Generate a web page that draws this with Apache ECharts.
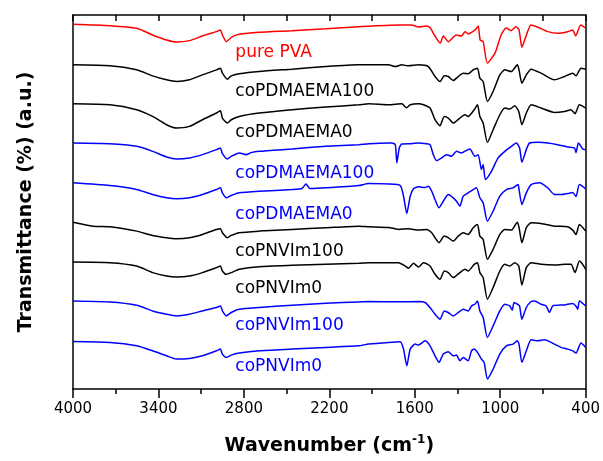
<!DOCTYPE html>
<html>
<head>
<meta charset="utf-8">
<script src="https://cdn.jsdelivr.net/npm/echarts@6/dist/echarts.min.js"></script>
<style>
  html, body { margin: 0; padding: 0; background: #fff; }
  #chart { width: 603px; height: 461px; }
</style>
</head>
<body>
<div id="chart"></div>
<script>
// FTIR spectra, stacked with vertical offsets: [wavenumber (cm-1), transmittance (a.u.)]
const purePVA = [[4000,365.7],[3741,364.3],[3553,361.7],[3441,355],[3343,350],[3273,348],[3182,349.3],[3091,354],[2993,358.3],[2965,360],[2951,355],[2923,348.3],[2902,350.7],[2881,353.3],[2833,355.7],[2693,357.7],[2462,359.3],[2224,361.3],[1994,363.3],[1714,365],[1623,365],[1574,363],[1519,364],[1491,362],[1463,355],[1421,346.7],[1400,354],[1365,348.3],[1309,355],[1274,354],[1246,358.3],[1225,356],[1176,360],[1155,364],[1141,350],[1120,348.3],[1090,326.7],[1036,337],[994,355],[959,362],[924,359.3],[889,363.3],[868,360],[848,342.7],[820,353.3],[784,365],[736,362.7],[666,358.3],[596,356.7],[526,358.3],[491,360],[470,354],[435,365],[400,361.7]];

const coPDMAEMA100a = [[4000,325],[3741,324],[3553,320],[3441,314],[3343,310],[3273,308.3],[3182,310],[3091,315],[2993,320],[2965,321.7],[2951,316.7],[2916,310.7],[2889,314],[2833,316],[2693,318.3],[2462,320.7],[2224,323.3],[1994,325],[1784,325],[1737,323.3],[1691,325],[1644,324],[1574,325],[1505,323.3],[1458,313.3],[1423,308.3],[1393,314],[1365,313.3],[1330,309.3],[1295,313.3],[1260,316.7],[1225,316],[1190,320],[1160,321.7],[1143,311.7],[1120,308.3],[1090,288.3],[1050,298.3],[1003,315],[968,320],[922,318.3],[880,325],[868,320],[848,306.7],[817,315],[783,320.7],[713,316.7],[619,310],[549,313.3],[491,316.7],[468,314],[433,321.7],[400,320.7]];

const coPDMAEMA0a = [[4000,286],[3741,285],[3553,280],[3441,273.3],[3343,265],[3273,261.7],[3182,263.3],[3091,270],[2993,276.7],[2965,279],[2951,271.7],[2916,266.7],[2889,270],[2833,273.3],[2693,276.7],[2462,280],[2224,282.7],[1994,285],[1924,286],[1784,285],[1691,286],[1658,282],[1632,285],[1574,286],[1539,285],[1493,281.7],[1458,270],[1423,264],[1393,273.3],[1365,271.7],[1330,266.7],[1283,271.7],[1248,275],[1225,273.3],[1183,280],[1160,285],[1143,273.3],[1120,266.7],[1090,247.3],[1050,260],[1003,275],[968,281.7],[933,280.7],[898,284],[870,278.3],[848,265],[817,276.7],[783,285],[713,281.7],[619,277.3],[549,278.3],[503,280],[475,276],[444,285],[400,281.7]];

const coPDMAEMA100b = [[4000,246.7],[3741,246],[3553,243.3],[3441,238.3],[3343,232.7],[3273,230.7],[3182,231.7],[3091,235],[2993,240],[2965,241.7],[2951,236],[2916,230.7],[2889,233.3],[2833,236.7],[2784,235],[2749,237],[2693,238.3],[2462,240.7],[2224,243.3],[1994,245],[1924,246],[1784,246.7],[1761,246.7],[1737,245],[1726,226.7],[1709,241.7],[1691,245.7],[1623,246],[1574,246.7],[1519,246],[1493,245],[1470,235],[1447,229],[1412,231.7],[1377,235],[1342,233.3],[1307,238.3],[1272,236.7],[1237,239.3],[1213,240.7],[1178,233.3],[1155,235],[1132,220],[1120,225],[1104,210],[1062,218.3],[1015,231.7],[968,238.3],[922,243.3],[887,246.7],[864,241.7],[848,227.3],[817,240],[794,246.7],[736,247.3],[666,246.7],[596,245],[526,242.7],[479,241.7],[468,237],[451,246.7],[421,240.7],[400,240]];

const coPDMAEMA0b = [[4000,206.7],[3741,204],[3553,200],[3441,195],[3343,191.7],[3273,190.7],[3182,191.7],[3091,195],[2993,200],[2965,201.7],[2951,196.7],[2923,191.7],[2889,194],[2833,196.7],[2693,198.3],[2462,200],[2392,201],[2364,205.5],[2336,201],[2224,201.7],[1994,204],[1924,206],[1784,205.5],[1702,204],[1679,193.3],[1656,176],[1632,193.3],[1609,200.7],[1574,202.7],[1528,202],[1505,203.3],[1481,198.3],[1458,190],[1430,181.7],[1400,188.3],[1365,195],[1330,191.7],[1307,188.3],[1283,183.3],[1260,193.3],[1225,196.7],[1190,200],[1167,201.7],[1143,191.7],[1120,186.7],[1090,168.3],[1050,178.3],[1003,193.3],[957,200],[910,201.7],[875,205],[868,200],[848,185],[817,196.7],[783,205],[724,206.7],[666,201.7],[619,195],[573,195],[526,196],[491,197],[468,193],[444,205],[400,200.7]];

const coPNVIm100a = [[4000,167.3],[3860,163.3],[3741,162.7],[3553,158.3],[3441,154],[3343,151.7],[3273,150.7],[3182,151.7],[3091,155],[2993,160],[2965,160.7],[2951,156.7],[2916,151.7],[2889,154],[2833,156.7],[2693,158.3],[2462,160],[2224,161.7],[1994,163.3],[1924,162.7],[1784,162],[1714,160],[1644,160.7],[1574,159.3],[1516,160],[1481,156.7],[1458,151.7],[1430,146.7],[1393,153.3],[1365,151.7],[1330,148.3],[1295,153.3],[1260,156.7],[1225,155],[1190,161.7],[1160,165],[1143,153.3],[1120,150],[1090,130],[1050,140],[1003,155],[968,160],[922,159.3],[880,167.3],[868,162],[848,146.7],[817,161.7],[783,166.7],[713,166],[619,163.3],[526,162.7],[491,159.3],[468,155],[444,165],[400,158.3]];

const coPNVIm0a = [[4000,127.3],[3741,126.7],[3553,123.3],[3441,116.7],[3343,113.3],[3273,112.3],[3182,113.3],[3091,116.7],[2993,121.7],[2965,123.3],[2951,118.3],[2923,115],[2889,116.7],[2833,120],[2693,122.7],[2462,124],[2224,125],[1994,126],[1924,126.7],[1714,126.7],[1667,123.3],[1644,121],[1609,126],[1574,122.3],[1539,126.7],[1493,123.3],[1458,115],[1423,110],[1393,118.3],[1365,116.7],[1330,111.7],[1283,116.7],[1248,120],[1225,118.3],[1183,125],[1160,126.7],[1143,116.7],[1120,111.7],[1090,90],[1050,101.7],[1003,118.3],[968,125],[933,123.3],[898,126.7],[870,123.3],[848,104.3],[817,121.7],[783,126.7],[713,125],[619,124.3],[549,125],[503,125],[475,116.7],[444,128.3],[421,125],[400,120]];

const coPNVIm100b = [[4000,88.3],[3741,87.3],[3553,84],[3441,78.3],[3343,75],[3273,73.3],[3182,75],[3091,78.3],[2993,81.7],[2965,83.3],[2951,78.3],[2923,73.3],[2889,76.7],[2833,80],[2693,81.7],[2462,84],[2224,86],[1994,87.3],[1924,87.7],[1714,87.5],[1574,87.7],[1528,86.7],[1493,81.7],[1458,75],[1423,70],[1393,78.3],[1365,76.7],[1330,73.3],[1295,76.7],[1260,80],[1225,78.3],[1202,83.3],[1178,85],[1160,88.3],[1143,78.3],[1120,71.7],[1090,51.7],[1050,63.3],[1003,78.3],[968,85],[933,83.3],[916,79],[903,86.7],[880,85],[864,83],[848,70],[817,81.7],[783,87.7],[759,88.3],[713,85],[678,83.3],[654,76.7],[631,83.3],[549,84.3],[491,85.7],[468,83],[456,80],[444,88.3],[400,83.3]];

const coPNVIm0b = [[4000,47.7],[3741,46.7],[3553,43.3],[3441,38.3],[3343,33.3],[3273,30],[3182,30.7],[3091,33.3],[2993,38.3],[2965,40],[2951,35],[2923,31.7],[2889,34],[2833,36],[2693,38.3],[2462,40],[2224,41.7],[1994,43.3],[1924,45],[1784,46.7],[1702,47.3],[1679,40],[1656,23.3],[1632,40],[1597,45],[1574,44],[1528,48.3],[1493,43.3],[1458,33.3],[1430,26.7],[1400,35],[1365,37.3],[1330,33.3],[1307,34],[1283,28.3],[1260,31.7],[1225,28.3],[1202,38.3],[1183,40],[1160,36.7],[1132,30],[1113,26.7],[1090,10],[1050,20],[1003,35],[957,43.3],[910,45],[880,48.3],[868,45],[848,26.7],[817,38.3],[783,49.3],[736,48.3],[690,49.3],[619,45],[573,41.7],[526,40],[491,38.3],[468,36],[433,46],[400,41.7]];

const sampleNames = ['pure PVA', 'coPDMAEMA100', 'coPDMAEMA0', 'coPDMAEMA100', 'coPDMAEMA0',
                     'coPNVIm100', 'coPNVIm0', 'coPNVIm100', 'coPNVIm0'];
const spectra = [purePVA, coPDMAEMA100a, coPDMAEMA0a, coPDMAEMA100b, coPDMAEMA0b,
                 coPNVIm100a, coPNVIm0a, coPNVIm100b, coPNVIm0b];

const majorTicks = [4000, 3400, 2800, 2200, 1600, 1000, 400];
const minorTicks = [3700, 3100, 2500, 1900, 1300, 700];

// styling / layout
const RED = '#ff0000', BLK = '#000000', BLU = '#0000ff';
const lineColors = [RED, BLK, BLK, BLU, BLU, BLK, BLK, BLU, BLU];
const labelAnchorWn = 2860;
const labelLevels = [337.5, 298.5, 257.5, 216, 175, 137.5, 101, 64, 22.5];
const FONT = 'DejaVu Sans';

const chart = echarts.init(document.getElementById('chart'), null, { renderer: 'canvas' });

const axisBase = {
  type: 'value', min: 400, max: 4000, inverse: true,
  splitLine: { show: false }
};

const series = spectra.map((d, i) => ({
  type: 'line',
  name: sampleNames[i] + '#' + i,
  data: d,
  xAxisIndex: 0, yAxisIndex: 0,
  showSymbol: false,
  smooth: 0.2,
  lineStyle: { color: lineColors[i], width: 1.5 },
  z: 3
}));

// sample names, placed in data space beside each trace
series.push({
  type: 'scatter',
  xAxisIndex: 0, yAxisIndex: 0,
  symbolSize: 0,
  silent: true,
  itemStyle: { opacity: 1 },
  data: sampleNames.map((n, i) => ({
    value: [labelAnchorWn, labelLevels[i]],
    name: n,
    label: { color: lineColors[i] }
  })),
  label: {
    show: true, position: 'right', distance: 0,
    formatter: p => p.name,
    fontFamily: FONT, fontSize: 17, opacity: 1,
    textBorderWidth: 0
  },
  z: 5
});

chart.setOption({
  animation: false,
  backgroundColor: '#fff',
  grid: { left: 73, right: 15, top: 15, bottom: 71 },
  xAxis: [
    Object.assign({}, axisBase, {
      position: 'bottom',
      axisLine: { show: true, onZero: false, lineStyle: { color: '#000', width: 1.5 } },
      axisTick: { show: true, inside: false, length: 9, customValues: majorTicks,
                  lineStyle: { color: '#000', width: 1.5 } },
      axisLabel: { show: true, customValues: majorTicks, color: '#000', fontFamily: FONT,
                   fontSize: 15, margin: 13, formatter: v => String(v) },
      name: '{t|Wavenumber (cm}{s|-1}{t|)}',
      nameLocation: 'middle',
      nameGap: 45,
      nameTextStyle: {
        rich: {
          t: { fontFamily: FONT, fontWeight: 'bold', fontSize: 19, color: '#000', lineHeight: 24 },
          s: { fontFamily: FONT, fontWeight: 'bold', fontSize: 12, color: '#000',
               verticalAlign: 'top', lineHeight: 12, padding: [0, 0, 10, 0] }
        }
      }
    }),
    Object.assign({}, axisBase, {
      position: 'bottom',
      axisLine: { show: false, onZero: false },
      axisTick: { show: true, inside: false, length: 5, customValues: minorTicks,
                  lineStyle: { color: '#000', width: 1.5 } },
      axisLabel: { show: false }
    }),
    Object.assign({}, axisBase, {
      position: 'top',
      axisLine: { show: true, onZero: false, lineStyle: { color: '#000', width: 1.5 } },
      axisTick: { show: true, inside: true, length: 6,
                  customValues: majorTicks.concat(minorTicks),
                  lineStyle: { color: '#000', width: 1.5 } },
      axisLabel: { show: false }
    })
  ],
  yAxis: [
    {
      type: 'value', min: 0, max: 375, position: 'left',
      axisLine: { show: true, onZero: false, lineStyle: { color: '#000', width: 1.5 } },
      axisTick: { show: false }, axisLabel: { show: false }, splitLine: { show: false },
      name: 'Transmittance (%) (a.u.)',
      nameLocation: 'middle', nameGap: 37,
      nameTextStyle: { fontFamily: FONT, fontWeight: 'bold', fontSize: 19, color: '#000' }
    },
    {
      type: 'value', min: 0, max: 375, position: 'right',
      axisLine: { show: true, onZero: false, lineStyle: { color: '#000', width: 1.5 } },
      axisTick: { show: false }, axisLabel: { show: false }, splitLine: { show: false }
    }
  ],
  series: series
});
</script>
</body>
</html>
